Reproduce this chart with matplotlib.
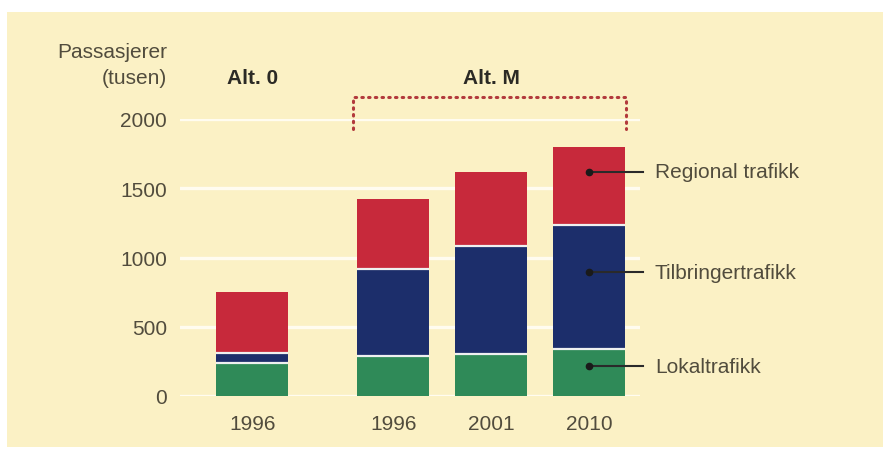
import matplotlib
matplotlib.use("Agg")
import matplotlib.pyplot as plt
from matplotlib.patches import Rectangle
from matplotlib.transforms import blended_transform_factory

# ---- data (thousand passengers) ----
years = ["1996", "1996", "2001", "2010"]
groups = ["Alt. 0", "Alt. M", "Alt. M", "Alt. M"]
lokal = [235, 290, 300, 340]
tilbringer = [75, 630, 785, 895]
regional = [440, 500, 530, 565]
series_names = ["Lokaltrafikk", "Tilbringertrafikk", "Regional trafikk"]
yticks = [0, 500, 1000, 1500, 2000]
label_levels = [215, 895, 1620]   # where the callout dots sit (Lokal, Tilbringer, Regional)

# ---- style ----
W, H = 883, 452
BG = "#FBF1C5"
TXT = "#514c3d"
COLORS = ["#2F8A58", "#1C2E6B", "#C7293B"]
FONT = "Liberation Sans"
FS = 15

plt.rcParams["font.family"] = [FONT, "DejaVu Sans"]

fig = plt.figure(figsize=(W / 100, H / 100), dpi=100)
fig.patch.set_facecolor("white")
fig.add_artist(Rectangle((7 / W, (H - 448) / H), (W - 7) / W, (448 - 13) / H,
                         transform=fig.transFigure, facecolor=BG, edgecolor="none", zorder=0))

# axes spanning the gridlines: x 180..640 px, y 120 (2000) .. 397 (0)
left, right, top, bottom = 180, 640, 120, 397
ax = fig.add_axes([left / W, (H - bottom) / H, (right - left) / W, (bottom - top) / H])
ax.set_facecolor("none")
for s in ax.spines.values():
    s.set_visible(False)

xpos = [0, 1.44, 2.44, 3.44]
unit = 98.0
ax.set_xlim(-(252.5 - left) / unit, xpos[-1] + (right - 589) / unit)
ax.set_ylim(0, 2000)

# gridlines
for t in yticks:
    ax.axhline(t, color="#FFFCF0", lw=2.4, zorder=1)

bw = 0.735
series = [lokal, tilbringer, regional]
bottoms = [0] * len(years)
for vals, col in zip(series, COLORS):
    ax.bar(xpos, vals, bottom=bottoms, width=bw, color=col, edgecolor="none", zorder=2)
    bottoms = [b + v for b, v in zip(bottoms, vals)]
    # white separators between segments
    for x, b in zip(xpos, bottoms):
        if col != COLORS[-1]:
            ax.plot([x - bw / 2, x + bw / 2], [b, b], color="#eef0f0", lw=1.6, zorder=3,
                    solid_capstyle="butt")

ax.set_yticks(yticks)
ax.set_yticklabels([str(t) for t in yticks])
ax.set_xticks(xpos)
ax.set_xticklabels(years)
ax.tick_params(axis="both", length=0, labelsize=FS, labelcolor=TXT)
ax.tick_params(axis="y", pad=9.5)
ax.tick_params(axis="x", pad=13)
for lab in ax.get_xticklabels() + ax.get_yticklabels():
    lab.set_fontfamily(FONT)

# y-axis title
fig.text(167 / W, 1 - 52 / H, "Passasjerer", ha="right", va="center", fontsize=FS,
         color=TXT, family=FONT)
fig.text(167 / W, 1 - 79 / H, "(tusen)", ha="right", va="center", fontsize=FS,
         color=TXT, family=FONT)

# group titles
to = blended_transform_factory(ax.transData, fig.transFigure)
ax.text(xpos[0], 1 - 79 / H, groups[0], transform=to, ha="center", va="center",
        fontsize=FS, fontweight="bold", color="#2b2a25", family=FONT)
ax.text(xpos[2], 1 - 79 / H, groups[1], transform=to, ha="center", va="center",
        fontsize=FS, fontweight="bold", color="#2b2a25", family=FONT)

# dotted bracket over Alt. M
bx0 = xpos[1] - bw / 2 - 0.045
bx1 = xpos[3] + bw / 2 + 0.01
ytop, ybot = 2160, 1930
ax.plot([bx0, bx0, bx1, bx1], [ybot, ytop, ytop, ybot], color="#B23A3C", lw=2.2,
        linestyle=(0, (0.5, 1.7)), dash_capstyle="round", clip_on=False, zorder=4)

# callouts
xd = xpos[3]
xe = xpos[3] + 54 / unit
xt = xpos[3] + 66 / unit
for lvl, name in zip(label_levels, series_names):
    ax.plot([xd, xe], [lvl, lvl], color="#2a2a2a", lw=1.5, clip_on=False, zorder=5)
    ax.plot([xd], [lvl], "o", color="#1a1a1a", ms=4.5, clip_on=False, zorder=6)
    ax.text(xt, lvl, name, ha="left", va="center", fontsize=FS, color=TXT,
            family=FONT, clip_on=False)

fig.savefig("out.png", dpi=100, facecolor=fig.get_facecolor())
